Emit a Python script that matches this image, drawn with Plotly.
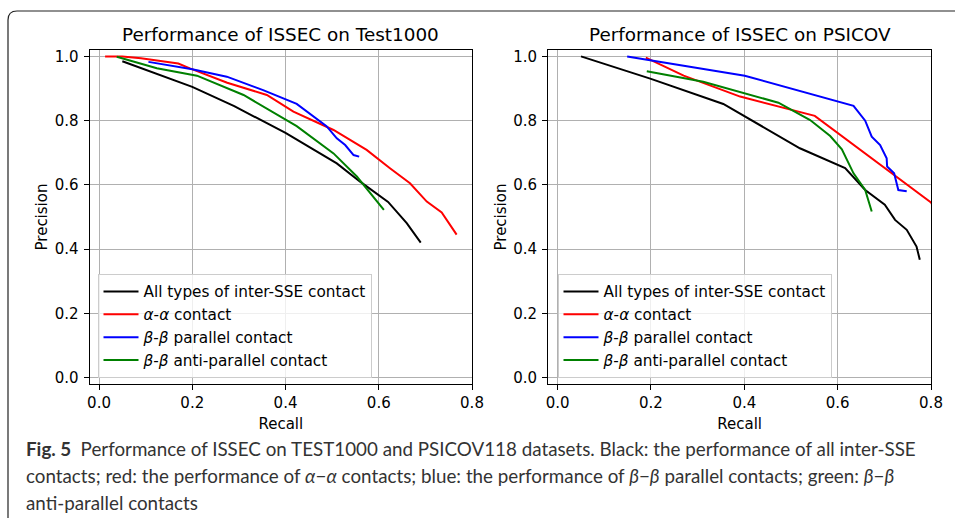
import plotly.graph_objects as go

# ---------------- data ----------------
series_names = [
    "All types of inter-SSE contact",
    "<i>α</i>-<i>α</i> contact",
    "<i>β</i>-<i>β</i> parallel contact",
    "<i>β</i>-<i>β</i> anti-parallel contact",
]
series_colors = ["black", "red", "blue", "green"]

# Test1000
t_all_x = [0.05, 0.2, 0.29, 0.4, 0.51, 0.56, 0.62, 0.66, 0.69]
t_all_y = [0.985, 0.905, 0.845, 0.762, 0.667, 0.61, 0.547, 0.481, 0.42]
t_aa_x = [0.013, 0.05, 0.09, 0.17, 0.195, 0.275, 0.36, 0.417, 0.503, 0.574, 0.624, 0.667, 0.703, 0.735, 0.767]
t_aa_y = [1.0, 1.0, 0.994, 0.978, 0.963, 0.918, 0.88, 0.828, 0.771, 0.709, 0.652, 0.605, 0.548, 0.514, 0.445]
t_bp_x = [0.106, 0.2, 0.274, 0.352, 0.424, 0.488, 0.51, 0.528, 0.546, 0.558]
t_bp_y = [0.983, 0.96, 0.937, 0.895, 0.852, 0.783, 0.745, 0.724, 0.693, 0.688]
t_ba_x = [0.038, 0.124, 0.21, 0.31, 0.424, 0.503, 0.553, 0.588, 0.611]
t_ba_y = [0.999, 0.963, 0.94, 0.88, 0.783, 0.698, 0.626, 0.564, 0.522]

# PSICOV
p_all_x = [0.05, 0.2, 0.355, 0.405, 0.519, 0.616, 0.659, 0.701, 0.723, 0.748, 0.769, 0.776]
p_all_y = [1.0, 0.93, 0.852, 0.81, 0.714, 0.652, 0.584, 0.538, 0.491, 0.46, 0.408, 0.367]
p_aa_x = [0.189, 0.27, 0.391, 0.551, 0.8, 0.82]
p_aa_y = [0.996, 0.94, 0.875, 0.815, 0.545, 0.5]
p_bp_x = [0.149, 0.401, 0.634, 0.659, 0.673, 0.691, 0.705, 0.706, 0.721, 0.73, 0.748]
p_bp_y = [1.0, 0.94, 0.846, 0.8, 0.75, 0.724, 0.683, 0.657, 0.636, 0.584, 0.58]
p_ba_x = [0.191, 0.312, 0.473, 0.541, 0.584, 0.609, 0.634, 0.659, 0.673]
p_ba_y = [0.954, 0.921, 0.856, 0.802, 0.752, 0.711, 0.636, 0.584, 0.517]

tick_vals = [0.0, 0.2, 0.4, 0.6, 0.8, 1.0]
tick_text = ["0.0", "0.2", "0.4", "0.6", "0.8", "1.0"]

titles = ["Performance of ISSEC on Test1000", "Performance of ISSEC on PSICOV"]
x_label = "Recall"
y_label = "Precision"

caption_lines = [
    "<b>Fig. 5</b>\u2002Performance of ISSEC on TEST1000 and PSICOV118 datasets. Black: the performance of all inter-SSE",
    "contacts; red: the performance of <i>α</i>−<i>α</i> contacts; blue: the performance of <i>β</i>−<i>β</i> parallel contacts; green: <i>β</i>−<i>β</i>",
    "anti-parallel contacts",
]

# ---------------- layout geometry ----------------
W, H = 955, 518
def px(x):
    return x / W
def py(y):
    return 1 - y / H

FONT = "DejaVu Sans"

fig = go.Figure()

panels = [
    ([t_all_x, t_aa_x, t_bp_x, t_ba_x], [t_all_y, t_aa_y, t_bp_y, t_ba_y], "x", "y", "legend"),
    ([p_all_x, p_aa_x, p_bp_x, p_ba_x], [p_all_y, p_aa_y, p_bp_y, p_ba_y], "x2", "y2", "legend2"),
]
for xs, ys, xa, ya, lg in panels:
    for i in range(4):
        fig.add_trace(go.Scatter(
            x=xs[i], y=ys[i], mode="lines", name=series_names[i],
            line=dict(color=series_colors[i], width=2),
            xaxis=xa, yaxis=ya, legend=lg, showlegend=True,
        ))

axis_common = dict(
    showgrid=True, gridcolor="#b0b0b0", gridwidth=1,
    showline=True, linecolor="black", linewidth=1.3, mirror=True,
    ticks="outside", ticklen=5, tickwidth=1, tickcolor="black",
    tickfont=dict(family=FONT, size=15, color="black"),
    zeroline=False, tickvals=tick_vals, ticktext=tick_text,
    automargin=False,
)

x_domains = [[px(89.7), px(472)], [px(548.3), px(931)]]
y_domain = [py(384), py(50)]

legend_common = dict(
    yanchor="bottom", xanchor="left", y=py(378),
    bgcolor="rgba(255,255,255,0.8)", bordercolor="#cccccc", borderwidth=1,
    font=dict(family=FONT, size=15.3, color="black"), tracegroupgap=0,
    itemwidth=35,
)

fig.update_layout(
    template="none",
    width=W, height=H, autosize=False,
    margin=dict(l=0, r=0, t=0, b=0, pad=0, autoexpand=False),
    paper_bgcolor="white", plot_bgcolor="white",
    font=dict(family=FONT, size=15, color="black"),
    xaxis=dict(axis_common, domain=x_domains[0], range=[-0.02, 0.8], anchor="y",
               ticklabelstandoff=0,
               title=dict(text=x_label, font=dict(family=FONT, size=15), standoff=7)),
    yaxis=dict(axis_common, domain=y_domain, range=[-0.02, 1.02], anchor="x",
               ticklabelstandoff=2,
               title=dict(text=y_label, font=dict(family=FONT, size=15), standoff=3)),
    xaxis2=dict(axis_common, domain=x_domains[1], range=[-0.02, 0.8], anchor="y2",
                ticklabelstandoff=0,
                title=dict(text=x_label, font=dict(family=FONT, size=15), standoff=7)),
    yaxis2=dict(axis_common, domain=y_domain, range=[-0.02, 1.02], anchor="x2",
                ticklabelstandoff=2,
                title=dict(text=y_label, font=dict(family=FONT, size=15), standoff=3)),
    legend=dict(legend_common, x=px(97.5)),
    legend2=dict(legend_common, x=px(557.5)),
    showlegend=True,
)

# subplot titles
for i, t in enumerate(titles):
    cx = (x_domains[i][0] + x_domains[i][1]) / 2
    fig.add_annotation(text=t, x=cx, y=py(35), xref="paper", yref="paper",
                       xanchor="center", yanchor="middle", showarrow=False,
                       font=dict(family=FONT, size=18.4, color="black"))

# caption
cap_y = [448, 475, 502]
for line, yy in zip(caption_lines, cap_y):
    fig.add_annotation(text=line, x=px(24), y=py(yy), xref="paper", yref="paper",
                       xanchor="left", yanchor="middle", showarrow=False,
                       font=dict(family="Lato", size=18.8, color="#333333"))

# figure frame (rounded top-left corner, clipped right/bottom)
r = 9
path = (f"M {px(8)},{py(530)} L {px(8)},{py(11 + r)} "
        f"Q {px(8)},{py(11)} {px(8 + r)},{py(11)} L {px(970)},{py(11)}")
fig.add_shape(type="path", path=path, xref="paper", yref="paper",
              line=dict(color="#222222", width=1.2))

fig.write_html(
    "out.html",
    config={"displayModeBar": False, "responsive": False},
    post_script="document.body.style.margin='0px';document.body.style.overflow='hidden';",
)
